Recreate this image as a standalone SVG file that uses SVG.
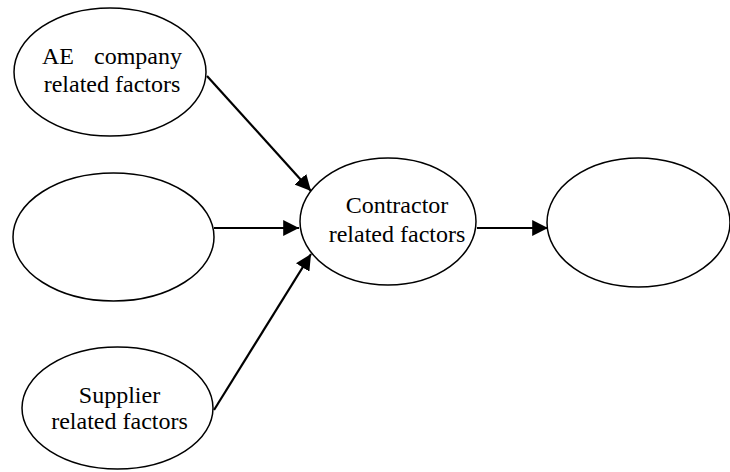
<svg xmlns="http://www.w3.org/2000/svg" width="730" height="472" viewBox="0 0 730 472">
<style>
.n{fill:#fff;stroke:#000;stroke-width:1.5}
.t{font-family:"Liberation Serif","Times New Roman",serif;font-size:24px;fill:#000}
.c{stroke:#000;stroke-width:2.2;fill:none}
</style>
<defs>
<marker id="ah" viewBox="0 0 10 10" refX="10" refY="5" markerWidth="7.2" markerHeight="7.2" markerUnits="strokeWidth" orient="auto">
<path d="M0,0 L10,5 L0,10 z" fill="#000"/>
</marker>
</defs>
<rect width="730" height="472" fill="#fff"/>
<g id="connectors">
<line class="c" x1="207" y1="76" x2="311" y2="191" marker-end="url(#ah)"/>
<line class="c" x1="214" y1="228" x2="299" y2="228" marker-end="url(#ah)"/>
<line class="c" x1="214" y1="410" x2="311" y2="254" marker-end="url(#ah)"/>
<line class="c" x1="477" y1="228" x2="548" y2="228" marker-end="url(#ah)"/>
</g>
<g id="ae">
<ellipse class="n" cx="110" cy="72" rx="96" ry="64"/>
<text class="t" x="42" y="64">AE</text>
<text class="t" x="182" y="64" text-anchor="end">company</text>
<text class="t" x="112" y="92" text-anchor="middle">related factors</text>
</g>
<g id="empty1">
<ellipse class="n" cx="113.5" cy="237" rx="100.5" ry="64"/>
</g>
<g id="supplier">
<ellipse class="n" cx="117.5" cy="408" rx="95.5" ry="61"/>
<text class="t" x="119.5" y="403" text-anchor="middle">Supplier</text>
<text class="t" x="119.5" y="429" text-anchor="middle">related factors</text>
</g>
<g id="contractor">
<ellipse class="n" cx="388" cy="221.5" rx="88" ry="63.5"/>
<text class="t" x="397" y="213" text-anchor="middle">Contractor</text>
<text class="t" x="397" y="242" text-anchor="middle">related factors</text>
</g>
<g id="empty2">
<ellipse class="n" cx="638.5" cy="222.5" rx="91.5" ry="64.5"/>
</g>
</svg>
